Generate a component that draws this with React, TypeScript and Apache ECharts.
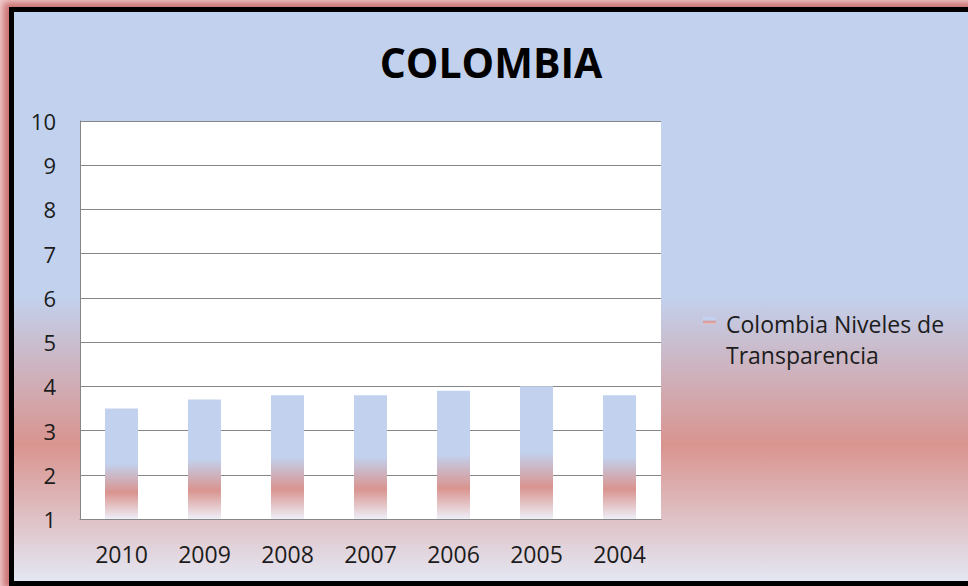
import { useEffect, useRef } from "react";
import * as echarts from "echarts";

const titleText = "COLOMBIA";
const categories = ["2010", "2009", "2008", "2007", "2006", "2005", "2004"];
const values = [3.5, 3.7, 3.8, 3.8, 3.9, 4.0, 3.8];
const seriesName = "Colombia Niveles de Transparencia";
const legendLines = ["Colombia Niveles de", "Transparencia"];
const yMin = 1;
const yMax = 10;
const yInterval = 1;

const BLUE = "#c2d1ed";
const RED = "#d9948f";
const LIGHT = "#e4e7f3";

const fadeStops = () => [
  { offset: 0, color: BLUE },
  { offset: 0.5, color: BLUE },
  { offset: 0.76, color: RED },
  { offset: 1, color: LIGHT },
];

export default function App() {
  const ref = useRef<HTMLDivElement>(null);

  useEffect(() => {
    if (!ref.current) return;
    const chart = echarts.init(ref.current, undefined, { renderer: "svg" });
    chart.setOption({
      animation: false,
      backgroundColor: new echarts.graphic.LinearGradient(0, 0, 0, 1, fadeStops()),
      textStyle: { fontFamily: "Open Sans" },
      title: {
        text: titleText,
        left: "center",
        top: 29,
        padding: 0,
        textStyle: { fontFamily: "Open Sans", fontWeight: "bold", fontSize: 41, color: "#000" },
      },
      legend: { show: false, data: [seriesName] },
      grid: {
        left: 66,
        top: 109,
        width: 581,
        height: 398,
        show: true,
        backgroundColor: "#ffffff",
        borderWidth: 0,
        containLabel: false,
      },
      xAxis: {
        type: "category",
        data: categories,
        axisLine: { show: true, lineStyle: { color: "#868686", width: 1 } },
        axisTick: { show: false },
        axisLabel: { margin: 23, fontSize: 23, color: "#1c1c1c", fontFamily: "Open Sans" },
      },
      yAxis: {
        type: "value",
        min: yMin,
        max: yMax,
        interval: yInterval,
        axisLine: { show: true, lineStyle: { color: "#868686", width: 1 } },
        axisTick: { show: false },
        splitLine: { show: true, lineStyle: { color: "#868686", width: 1 } },
        axisLabel: { margin: 24, fontSize: 22, color: "#1c1c1c", fontFamily: "Open Sans" },
      },
      series: [
        {
          name: seriesName,
          type: "bar",
          data: values,
          barWidth: 33,
          itemStyle: {
            color: new echarts.graphic.LinearGradient(0, 0, 0, 1, [
              { offset: 0, color: BLUE },
              { offset: 0.5, color: BLUE },
              { offset: 0.76, color: RED },
              { offset: 1, color: "#eeeff8" },
            ]),
          },
        },
      ],
      graphic: [
        {
          type: "rect",
          left: 689,
          top: 305,
          shape: { width: 13, height: 7 },
          style: {
            fill: new echarts.graphic.LinearGradient(0, 0, 0, 1, [
              { offset: 0, color: BLUE },
              { offset: 0.4, color: BLUE },
              { offset: 0.7, color: RED },
              { offset: 1, color: "#e8c8c8" },
            ]),
          },
        },
        {
          type: "text",
          left: 712,
          top: 296,
          style: {
            text: legendLines.join("\n"),
            font: "23px 'Open Sans'",
            lineHeight: 31,
            fill: "#1c1c1c",
          },
        },
      ],
    });
    return () => chart.dispose();
  }, []);

  return (
    <div
      style={{
        position: "fixed",
        left: 0,
        top: 0,
        width: 968,
        height: 586,
        overflow: "hidden",
        background: "#f3d2d2",
      }}
    >
      <div
        style={{
          position: "absolute",
          left: 9,
          top: 7,
          width: 990,
          height: 569,
          border: "5px solid #000",
          boxShadow: "-2px -1px 7px 4px rgba(196, 96, 96, 0.85)",
        }}
      >
        <div ref={ref} style={{ width: 954, height: 569 }} />
      </div>
    </div>
  );
}
